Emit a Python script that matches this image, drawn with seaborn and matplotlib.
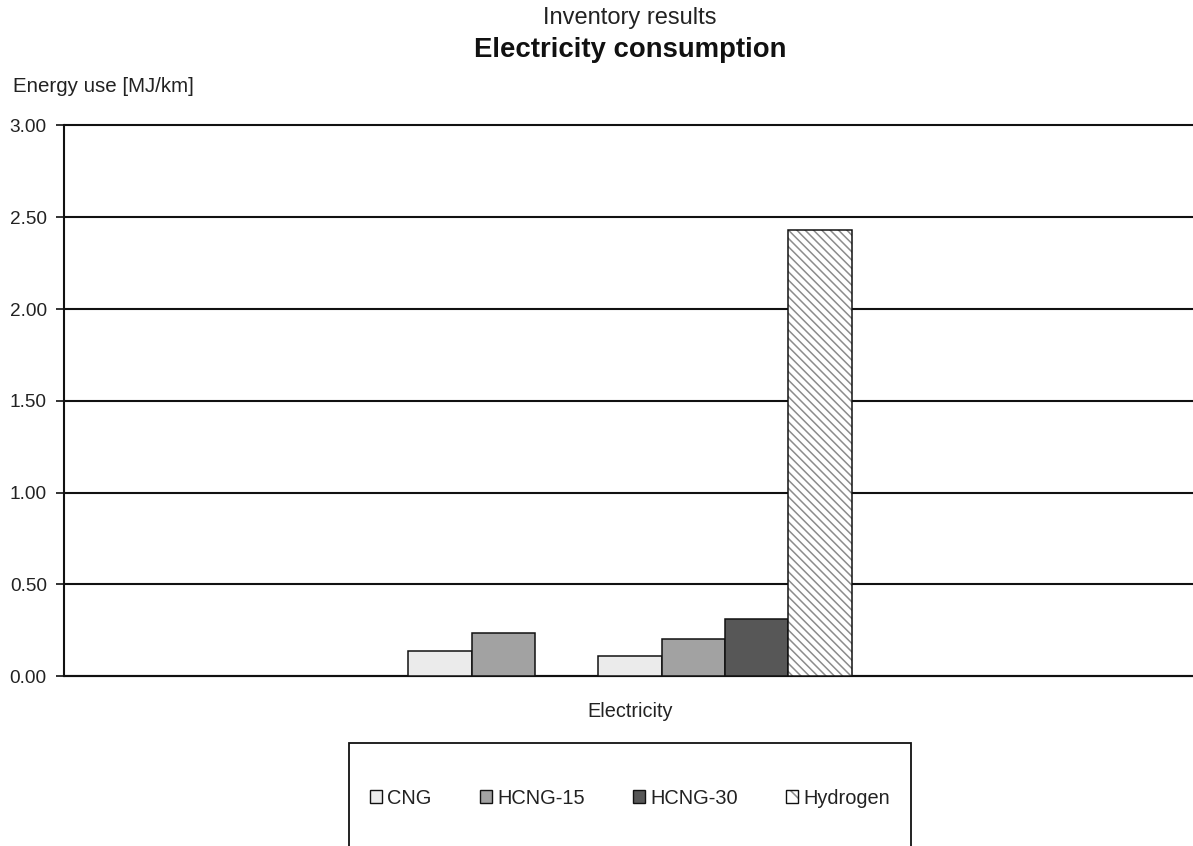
import matplotlib
matplotlib.use("Agg")
import matplotlib.pyplot as plt
from matplotlib.colors import to_rgba
from matplotlib.patches import Patch, Rectangle
import numpy as np
import pandas as pd
import seaborn as sns

# Energy use per bar slot (MJ/km); the third slot is empty
category = "Electricity"
slots = ["CNG 1", "HCNG-15 1", "HCNG-30 1", "CNG 2", "HCNG-15 2", "HCNG-30 2", "Hydrogen 2"]
fuel = ["CNG", "HCNG-15", "HCNG-30", "CNG", "HCNG-15", "HCNG-30", "Hydrogen"]
energy_use = [0.135, 0.235, np.nan, 0.11, 0.20, 0.31, 2.43]

legend_fuels = ["CNG", "HCNG-15", "HCNG-30", "Hydrogen"]
fuel_colors = {"CNG": "#ebebeb", "HCNG-15": "#a2a2a2", "HCNG-30": "#575757", "Hydrogen": "#ffffff"}
y_ticks = [0.0, 0.5, 1.0, 1.5, 2.0, 2.5, 3.0]

df = pd.DataFrame({"category": [category] * len(slots), "slot": slots,
                   "fuel": fuel, "energy": energy_use})

sns.set_theme(style="white")
plt.rcParams["font.family"] = ["Liberation Sans", "DejaVu Sans"]
plt.rcParams["hatch.linewidth"] = 1.1

HATCH_GRAY = "#8c8c8c"


def gray_hatch(patch):
    if hasattr(patch, "set_hatchcolor"):
        patch.set_hatchcolor(HATCH_GRAY)
    else:
        patch._hatch_color = to_rgba(HATCH_GRAY)


W, H = 1193, 846
fig = plt.figure(figsize=(W / 100, H / 100), dpi=100)
ax = fig.add_axes([63.5 / W, (H - 676) / H, (1196.5 - 63.5) / W, (676 - 125.5) / H])

palette = {s: fuel_colors[f] for s, f in zip(slots, fuel)}
sns.barplot(data=df, x="category", y="energy", hue="slot", hue_order=slots,
            palette=palette, width=0.391, dodge=True, saturation=1,
            edgecolor="#111111", linewidth=1.1, legend=False, ax=ax, zorder=3)

# Hatch the hydrogen bar with fine grey diagonals
for cont, f in zip(ax.containers, fuel):
    if f == "Hydrogen":
        for bar in cont:
            bar.set_hatch("\\\\\\\\")
            gray_hatch(bar)

ax.set_xlim(-0.5, 0.5)
ax.set_ylim(0, 3.0)
ax.set_yticks(y_ticks)
ax.set_yticklabels([f"{v:.2f}" for v in y_ticks], fontsize=13.7, color="#222222")
ax.yaxis.grid(True, color="#111111", linewidth=1.5, zorder=0)
for gl in ax.get_ygridlines():
    gl.set_clip_on(False)
ax.set_axisbelow(True)
ax.tick_params(axis="y", length=6, width=1.2, color="#111111", pad=6, left=True)
ax.tick_params(axis="x", length=0, pad=19, labelsize=14.3, labelcolor="#222222")
ax.set_xlabel("")
ax.set_ylabel("")
for side in ["top", "right"]:
    ax.spines[side].set_visible(False)
for side in ["left", "bottom"]:
    ax.spines[side].set_color("#111111")
    ax.spines[side].set_linewidth(1.5)

# Titles and axis caption
fig.text(630 / W, 1 - 18 / H, "Inventory results", ha="center", va="center",
         fontsize=17, color="#222222")
fig.text(630 / W, 1 - 50 / H, "Electricity consumption", ha="center", va="center",
         fontsize=19.8, fontweight="bold", color="#111111")
fig.text(13 / W, 1 - 86 / H, "Energy use [MJ/km]", ha="left", va="center",
         fontsize=14.8, color="#222222")

# Legend inside a box that runs past the lower edge
handles = [Patch(facecolor=fuel_colors[f], edgecolor="#111111", linewidth=1.0,
                 hatch=("\\" if f == "Hydrogen" else None)) for f in legend_fuels]
leg = fig.legend(handles, legend_fuels, loc="center", bbox_to_anchor=(630 / W, 1 - 798 / H),
                 ncol=4, frameon=False, fontsize=14.4, handlelength=0.62, handleheight=0.62,
                 handletextpad=0.26, columnspacing=2.4, borderpad=0, borderaxespad=0,
                 labelcolor="#222222")
for h in leg.legend_handles:
    if h.get_hatch():
        gray_hatch(h)
fig.add_artist(Rectangle((349 / W, -0.1), 562 / W, (H - 743) / H + 0.1,
                         transform=fig.transFigure, fill=False,
                         edgecolor="#111111", linewidth=1.3))

fig.savefig("out.png", dpi=100)
